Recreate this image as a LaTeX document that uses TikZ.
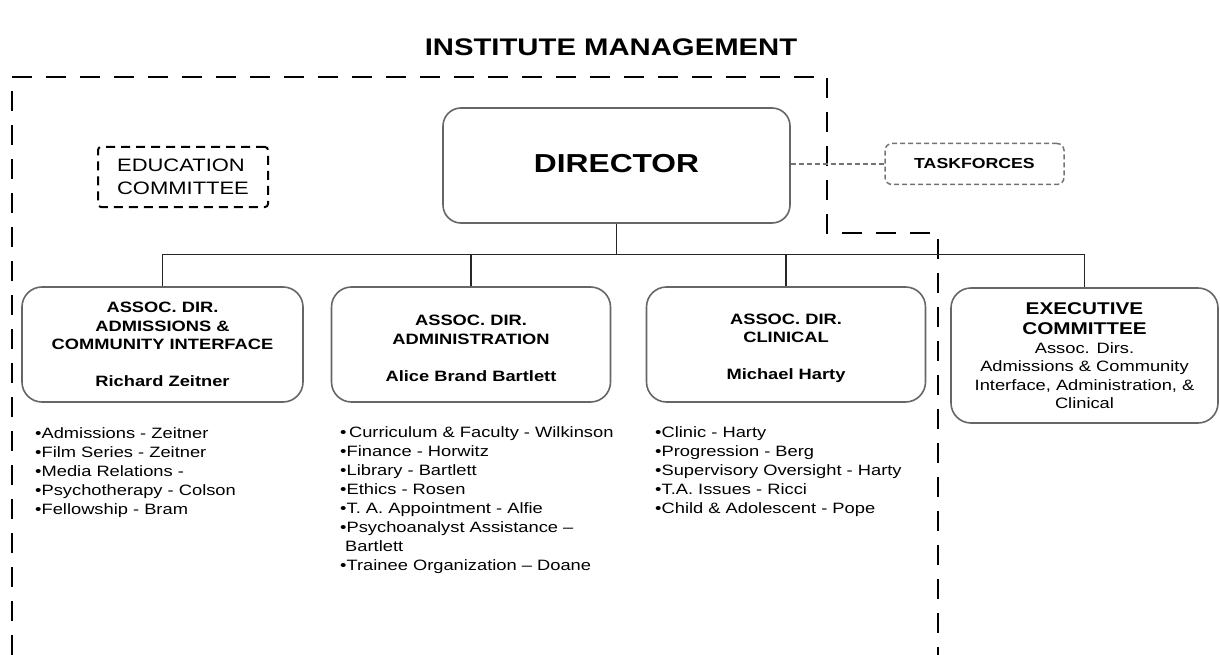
\documentclass[tikz,border=0pt]{standalone}
\usepackage{fontspec}
\setmainfont{Liberation Sans}[FakeStretch=1.22]
\usetikzlibrary{positioning}

\newcommand{\headfont}{\bfseries\fontsize{17}{21}\selectfont}

\begin{document}
\begin{tikzpicture}[x=1pt, y=1pt,
    boss/.style={draw=black!60, line width=1.6pt, rounded corners=18pt, minimum width=347pt, minimum height=115pt, font=\bfseries\fontsize{26}{30}\selectfont},
    assoc/.style={draw=black!60, line width=1.6pt, rounded corners=20pt, minimum width=279pt, minimum height=115pt, align=center, font=\bfseries\fontsize{15}{18.5}\selectfont},
    duties/.style={anchor=north west, align=left, inner sep=0pt, font=\fontsize{15}{19}\selectfont},
    conn/.style={draw=black!85, line width=1.1pt},
    fence/.style={line width=2.8pt, dash pattern=on 20pt off 14pt},
    cmte/.style={draw, line width=2pt, dash pattern=on 9pt off 6pt, rounded corners=3pt, minimum width=170pt, minimum height=60pt, align=left, font=\fontsize{18}{23}\selectfont},
    tforce/.style={draw=black!55, line width=1.5pt, dash pattern=on 5pt off 3pt, rounded corners=7pt, minimum width=179pt, minimum height=41pt, font=\bfseries\fontsize{14.5}{17}\selectfont},
    gdash/.style={draw=black!55, line width=1.5pt, dash pattern=on 5pt off 3pt}
]
\useasboundingbox (0,0) rectangle (1220,-655);

\node[font=\bfseries\fontsize{24}{28}\selectfont] (title) at (611,-47) {INSTITUTE MANAGEMENT};

% management region
\draw[fence] (12,-655) -- (12,-77) -- (827,-77) -- (827,-233) -- (938,-233) -- (938,-655);

\node[boss] (dir) at (616.5,-165.5) {\raisebox{5pt}{DIRECTOR}};
\node[tforce] (task) at (974.5,-164) {TASKFORCES};
\node[cmte] (educ) at (183,-177) {EDUCATION\\COMMITTEE};

\node[assoc, minimum width=281pt] (aca) at (162.5,-344.5) {ASSOC. DIR.\\ADMISSIONS \&\\COMMUNITY INTERFACE\\~\\Richard Zeitner};
\node[assoc] (adm) at (471,-344.5) {~\\ASSOC. DIR.\\ADMINISTRATION\\~\\Alice Brand Bartlett};
\node[assoc] (cln) at (786,-344.5) {~\\ASSOC. DIR.\\CLINICAL\\~\\Michael Harty};
\node[assoc, minimum width=267pt, minimum height=135pt, font=\fontsize{15}{18.5}\selectfont] (exec) at (1084.5,-355.5)
    {{\headfont EXECUTIVE}\\[2pt]{\headfont COMMITTEE}\\Assoc. Dirs.\\Admissions \& Community\\Interface, Administration, \&\\Clinical};

% tree
\coordinate (bus) at (616.5,-254.5);
\draw[conn] (dir) -- (bus);
\draw[conn] (aca.north) |- (bus) -| (exec.north);
\draw[conn] (adm.north) -- (adm.north |- bus);
\draw[conn] (cln.north) -- (cln.north |- bus);
\draw[gdash] (dir.east |- task) -- (task.west);

% duties
\node[duties] (acalist) at (35,-427) {\textbullet Admissions - Zeitner\\\textbullet Film Series - Zeitner\\\textbullet Media Relations -\\\textbullet Psychotherapy - Colson\\\textbullet Fellowship - Bram};
\node[duties] (admlist) at (340,-426) {\textbullet\,Curriculum \& Faculty - Wilkinson\\\textbullet Finance - Horwitz\\\textbullet Library - Bartlett\\\textbullet Ethics - Rosen\\\textbullet T. A. Appointment - Alfie\\\textbullet Psychoanalyst Assistance --\\\hspace{5pt}Bartlett\\\textbullet Trainee Organization -- Doane};
\node[duties] (clnlist) at (655,-426) {\textbullet Clinic - Harty\\\textbullet Progression - Berg\\\textbullet Supervisory Oversight - Harty\\\textbullet T.A. Issues - Ricci\\\textbullet Child \& Adolescent - Pope};
\end{tikzpicture}
\end{document}
